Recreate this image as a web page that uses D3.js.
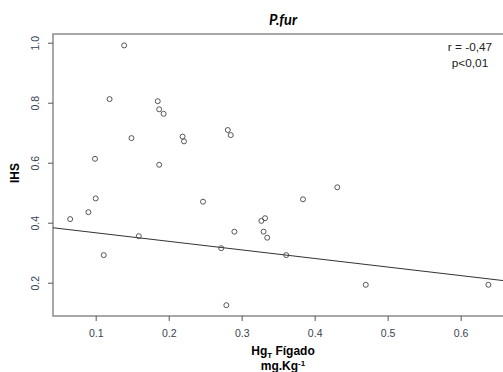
<!DOCTYPE html>
<html>
<head>
<meta charset="utf-8">
<script src="https://cdn.jsdelivr.net/npm/d3@7"></script>
<style>
  body { margin: 0; background: #fff; }
  text { font-family: "Liberation Sans", Arial, sans-serif; }
</style>
</head>
<body>
<script>
// Hg liver (mg/kg) vs IHS, P.fur
var hg = [0.139, 0.119, 0.185, 0.187, 0.193, 0.149, 0.219, 0.221, 0.281, 0.285,
          0.099, 0.187, 0.431, 0.100, 0.247, 0.384, 0.090, 0.065, 0.327, 0.332,
          0.290, 0.330, 0.335, 0.159, 0.111, 0.272, 0.361, 0.470, 0.638, 0.279];
var ihs = [0.991, 0.812, 0.805, 0.778, 0.763, 0.682, 0.687, 0.671, 0.709, 0.692,
           0.613, 0.593, 0.518, 0.481, 0.470, 0.478, 0.435, 0.412, 0.406, 0.415,
           0.370, 0.370, 0.350, 0.355, 0.292, 0.315, 0.292, 0.193, 0.193, 0.125];
var xTicks = [0.1, 0.2, 0.3, 0.4, 0.5, 0.6];
var yTicks = [0.2, 0.4, 0.6, 0.8, 1.0];
// fitted line: ihs = a + b * hg
var fitA = 0.395, fitB = -0.2855;

(function() {
  var w = 503, h = 372;
  var pl = 53, pr = 507, pt = 34, pb = 316;

  var svg = d3.select("body").append("svg")
    .attr("width", w)
    .attr("height", h);

  var x = d3.scaleLinear().domain([0.0415, 0.6635]).range([pl, pr]);
  var y = d3.scaleLinear().domain([0.089, 1.029]).range([pb, pt]);

  svg.append("clipPath").attr("id", "clip")
    .append("rect")
    .attr("x", pl).attr("y", pt)
    .attr("width", pr - pl).attr("height", pb - pt);

  // box
  svg.append("rect")
    .attr("x", pl).attr("y", pt)
    .attr("width", pr - pl).attr("height", pb - pt)
    .attr("fill", "none")
    .attr("stroke", "#8a8a8a")
    .attr("stroke-width", 1.5);

  // axes
  var xAxis = svg.append("g")
    .attr("transform", "translate(0," + pb + ")")
    .call(d3.axisBottom(x).tickValues(xTicks).tickSize(5).tickPadding(9).tickFormat(d3.format(".1f")));
  xAxis.select(".domain").remove();

  var yAxis = svg.append("g")
    .attr("transform", "translate(" + pl + ",0)")
    .call(d3.axisLeft(y).tickValues(yTicks).tickSize(5).tickFormat(d3.format(".1f")));
  yAxis.select(".domain").remove();
  yAxis.selectAll(".tick text")
    .attr("transform", "rotate(-90)")
    .attr("text-anchor", "middle")
    .attr("dy", "0")
    .attr("x", 0)
    .attr("y", -14);

  svg.selectAll(".tick line").attr("stroke", "#555");
  svg.selectAll(".tick text")
    .attr("fill", "#3a3f52")
    .style("font-family", "'Liberation Sans', Arial, sans-serif")
    .style("font-size", "10.5px");

  // regression line
  svg.append("line")
    .attr("clip-path", "url(#clip)")
    .attr("x1", x(0.0415)).attr("y1", y(fitA + fitB * 0.0415))
    .attr("x2", x(0.6635)).attr("y2", y(fitA + fitB * 0.6635))
    .attr("stroke", "#333")
    .attr("stroke-width", 1);

  // points
  svg.selectAll("circle.pt")
    .data(hg)
    .enter()
    .append("circle")
    .attr("class", "pt")
    .attr("cx", function(d) { return x(d); })
    .attr("cy", function(d, i) { return y(ihs[i]); })
    .attr("r", 2.5)
    .attr("fill", "none")
    .attr("stroke", "#444")
    .attr("stroke-width", 0.9);

  // title
  svg.append("text")
    .attr("x", 283).attr("y", 25)
    .attr("text-anchor", "middle")
    .style("font-family", "Lato, 'Open Sans', sans-serif")
    .style("font-weight", "bold")
    .style("font-style", "italic")
    .style("font-size", "14.5px")
    .text("P.fur");

  // stats
  svg.append("text")
    .attr("x", 470).attr("y", 51)
    .attr("text-anchor", "middle")
    .style("font-size", "11.8px")
    .attr("fill", "#222")
    .text("r = -0,47");
  svg.append("text")
    .attr("x", 470).attr("y", 67)
    .attr("text-anchor", "middle")
    .style("font-size", "11.8px")
    .attr("fill", "#222")
    .text("p<0,01");

  // y label
  svg.append("text")
    .attr("transform", "translate(19,173) rotate(-90)")
    .attr("text-anchor", "middle")
    .style("font-weight", "bold")
    .style("font-size", "12px")
    .text("IHS");

  // x label
  var xl = svg.append("text")
    .attr("x", 283).attr("y", 355)
    .attr("text-anchor", "middle")
    .style("font-weight", "bold")
    .style("font-size", "12px");
  xl.append("tspan").text("Hg");
  xl.append("tspan").attr("dy", 3).style("font-size", "8px").text("T");
  xl.append("tspan").attr("dy", -3).text(" Fígado");

  var xl2 = svg.append("text")
    .attr("x", 283).attr("y", 370)
    .attr("text-anchor", "middle")
    .style("font-weight", "bold")
    .style("font-size", "12px");
  xl2.append("tspan").text("mg.Kg");
  xl2.append("tspan").attr("dy", -4).style("font-size", "8px").text("-1");
})();
</script>
</body>
</html>
